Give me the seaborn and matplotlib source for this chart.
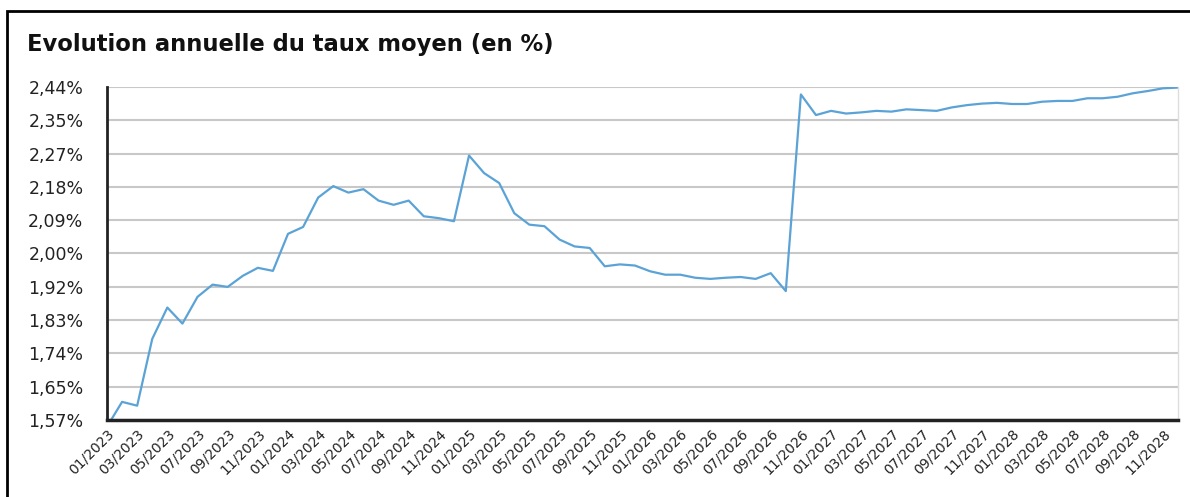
import numpy as np
import pandas as pd
import seaborn as sns
import matplotlib.pyplot as plt
from matplotlib.patches import Rectangle

# --- DATA ---
months = [f"{m:02d}/{y}" for y in range(2023, 2029) for m in range(1, 13)]
taux = [
    1.550, 1.615, 1.605, 1.780, 1.862, 1.820, 1.890, 1.922, 1.916, 1.945, 1.966, 1.958,
    2.055, 2.073, 2.150, 2.180, 2.163, 2.172, 2.142, 2.131, 2.142, 2.101, 2.096, 2.088,
    2.260, 2.214, 2.188, 2.109, 2.079, 2.075, 2.040, 2.022, 2.018, 1.970, 1.975, 1.972,
    1.957, 1.948, 1.948, 1.940, 1.937, 1.940, 1.942, 1.937, 1.952, 1.905, 2.420, 2.366,
    2.377, 2.370, 2.373, 2.377, 2.375, 2.381, 2.379, 2.377, 2.386, 2.392, 2.396, 2.398,
    2.395, 2.395, 2.401, 2.403, 2.403, 2.410, 2.410, 2.414, 2.423, 2.429, 2.436, 2.438,
]
y_labels = ["1,57%", "1,65%", "1,74%", "1,83%", "1,92%", "2,00%",
            "2,09%", "2,18%", "2,27%", "2,35%", "2,44%"]
y_min, y_max = 1.5675, 2.4395

df = pd.DataFrame({"idx": range(len(months)), "mois": months, "taux": taux})

# --- PLOT ---
sns.set_style("white")
plt.rcParams['font.family'] = ['DejaVu Sans']
fig = plt.figure(figsize=(11.9, 4.97), dpi=100)
ax = fig.add_axes([107 / 1190, 1 - 420 / 497, (1178 - 107) / 1190, (420 - 87) / 497])

sns.lineplot(data=df, x="idx", y="taux", color="#5ba3d6", linewidth=1.6, ax=ax)

ax.set_xlim(0, len(months) - 1)
ax.set_ylim(y_min, y_max)
ax.set_yticks(np.linspace(y_min, y_max, len(y_labels)))
ax.set_yticklabels(y_labels, fontsize=12.5, color="#222222")
ax.set_xticks(df["idx"][::2])
ax.set_xticklabels(df["mois"][::2], rotation=45, ha="right", va="top",
                   rotation_mode="anchor", fontsize=10, color="#222222")
ax.tick_params(axis="y", length=0, pad=17)
ax.tick_params(axis="x", length=0, pad=5)
ax.set_xlabel("")
ax.set_ylabel("")

ax.grid(True, axis="y", color="#c8c8c8", linewidth=1.5)
ax.grid(False, axis="x")
ax.spines["top"].set_visible(False)
ax.spines["left"].set_color("#222222")
ax.spines["left"].set_linewidth(2)
ax.spines["bottom"].set_color("#222222")
ax.spines["bottom"].set_linewidth(2.5)
ax.spines["right"].set_color("#dddddd")
ax.spines["right"].set_linewidth(1)

fig.text(27 / 1190, 1 - 45 / 497, "Evolution annuelle du taux moyen (en %)",
         fontsize=16.3, fontweight="bold", ha="left", va="center", color="#111111")

# outer frame
fig.patches.append(Rectangle((7 / 1190, -0.1), 1.2, 0.1 + (497 - 11) / 497,
                             transform=fig.transFigure, fill=False,
                             edgecolor="black", linewidth=2))

fig.savefig("out.png", dpi=100)
